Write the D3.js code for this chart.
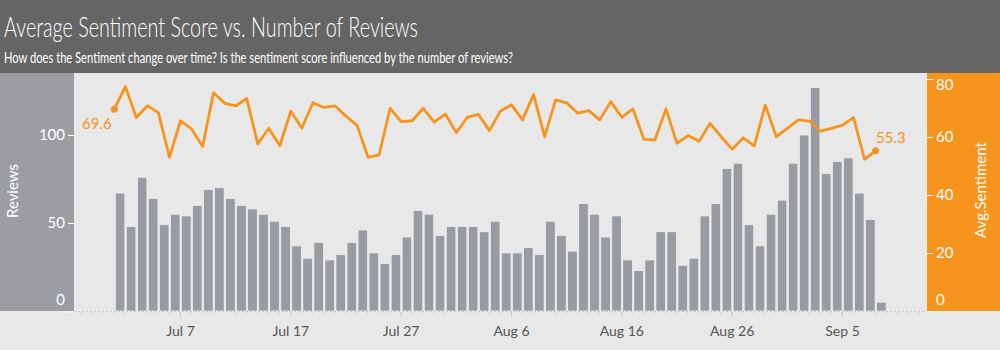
<!DOCTYPE html>
<html>
<head>
<meta charset="utf-8">
<script src="https://cdn.jsdelivr.net/npm/d3@7"></script>
<style>
  body { margin: 0; background: #e8e8e8; }
  svg { display: block; font-family: Lato, "Open Sans", sans-serif; }
</style>
</head>
<body>
<div id="chart"></div>
<script>
// daily values, Jul 1 .. Sep 8
const startDate = new Date(Date.UTC(2019, 6, 1))
const reviews = [67, 48, 76, 64, 49, 55, 54, 60, 69, 70, 64, 60, 58, 55, 51, 48, 37, 30, 39, 29,
    32, 39, 46, 33, 27, 32, 42, 57, 55, 43, 48, 48, 48, 45, 51, 33, 33, 36, 32, 51,
    43, 34, 61, 55, 42, 54, 29, 23, 29, 45, 45, 26, 30, 54, 61, 81, 84, 49, 37, 55,
    63, 84, 100, 127, 78, 85, 87, 67, 52, 5]
const sentiment = [69.6, 77.4, 66.7, 70.8, 68.4, 53.0, 65.6, 62.8, 56.7, 75.3, 71.6, 70.7, 73.3, 57.6, 63.0, 57.0, 68.9, 63.0, 71.8, 70.2,
    70.7, 67.2, 64.0, 53.0, 53.8, 69.9, 65.3, 65.6, 69.9, 65.1, 67.9, 61.5, 66.8, 67.8, 62.2, 69.0, 71.1, 65.9, 74.6, 60.1,
    72.8, 71.8, 68.2, 69.1, 65.9, 72.2, 66.8, 69.7, 59.2, 59.0, 69.7, 57.8, 60.5, 58.5, 64.7, 60.1, 55.8, 59.7, 56.9, 71.0,
    60.1, 63.0, 65.9, 65.5, 62.0, 63.0, 64.1, 66.7, 52.3, 55.3]
const xTickLabels = ["Jul 7", "Jul 17", "Jul 27", "Aug 6", "Aug 16", "Aug 26", "Sep 5"]
const reviewTicks = [0, 50, 100]
const sentimentTicks = [0, 20, 40, 60, 80]

const title = "Average Sentiment Score vs. Number of Reviews"
const subtitle = "How does the Sentiment change over time? Is the sentiment score influenced by the number of reviews?"

const W = 1000, H = 350
const plotLeft = 74, plotRight = 927, plotTop = 73, plotBottom = 311

let data = reviews.map((r, i) => ({date: d3.utcDay.offset(startDate, i), reviews: r, sentiment: sentiment[i]}))

let svg = d3.select("#chart").append("svg").attr("width", W).attr("height", H)

svg.append("rect").attr("width", W).attr("height", H).attr("fill", "#e8e8e8")

// header (tableau font is narrower, so squeeze to the same width)
svg.append("rect").attr("width", W).attr("height", plotTop).attr("fill", "#656565")
svg.append("text").attr("x", 4).attr("y", 37).text(title)
    .attr("fill", "white").style("font-size", "27px").style("font-weight", 300)
    .attr("textLength", 414).attr("lengthAdjust", "spacingAndGlyphs")
svg.append("text").attr("x", 4).attr("y", 63).text(subtitle)
    .attr("fill", "white").style("font-size", "15.5px")
    .attr("textLength", 509).attr("lengthAdjust", "spacingAndGlyphs")

// side panels
svg.append("rect").attr("x", 0).attr("y", plotTop).attr("width", plotLeft).attr("height", plotBottom - plotTop).attr("fill", "#9b9da3")
svg.append("rect").attr("x", plotRight).attr("y", plotTop).attr("width", W - plotRight).attr("height", plotBottom - plotTop).attr("fill", "#f7941d")

let x = d3.scaleUtc()
    .domain([new Date(Date.UTC(2019, 6, 7)), new Date(Date.UTC(2019, 8, 5))])
    .range([180, 842])
let yReviews = d3.scaleLinear().domain([0, 100]).range([plotBottom, 135])
let ySent = d3.scaleLinear().domain([0, 80]).range([plotBottom, 79])

// bars
svg.append("g").selectAll("rect").data(data).enter().append("rect")
    .attr("x", d => x(d.date) + 1.5)
    .attr("width", d => x(d3.utcDay.offset(d.date, 1)) - x(d.date) - 1.5)
    .attr("y", d => yReviews(d.reviews))
    .attr("height", d => plotBottom - yReviews(d.reviews))
    .attr("fill", "#999ba3")
    .attr("stroke", "#f2f2f2").attr("stroke-width", 0.7)

// baseline
svg.append("line").attr("x1", plotLeft).attr("x2", plotRight).attr("y1", plotBottom + 0.5).attr("y2", plotBottom + 0.5)
    .attr("stroke", "#c8c8c8").attr("stroke-dasharray", "2,2")

// x axis
let dayTicks = d3.utcDay.range(x.invert(plotLeft), x.invert(plotRight))
svg.append("g").selectAll("line").data(dayTicks).enter().append("line")
    .attr("x1", d => x(d)).attr("x2", d => x(d))
    .attr("y1", plotBottom + 1).attr("y2", plotBottom + 3)
    .attr("stroke", "#d0d0d0")
let majorDates = xTickLabels.map((t, i) => d3.utcDay.offset(new Date(Date.UTC(2019, 6, 7)), i * 10))
let xAxis = svg.append("g").attr("transform", "translate(0," + (plotBottom + 1) + ")")
    .call(d3.axisBottom(x).tickValues(majorDates).tickSize(5).tickFormat((d, i) => xTickLabels[i]))
xAxis.select(".domain").remove()
xAxis.selectAll("line").attr("stroke", "#c8c8c8")
xAxis.selectAll("text").attr("fill", "#555").style("font-size", "14px").attr("dy", "1.15em")
    .style("font-family", "Lato, sans-serif")

// left axis
let leftAxis = svg.append("g").attr("transform", "translate(" + plotLeft + ",0)")
    .call(d3.axisLeft(yReviews).tickValues(reviewTicks).tickSize(6))
leftAxis.select(".domain").remove()
leftAxis.selectAll("line").attr("stroke", "white")
leftAxis.selectAll("text").attr("fill", "white").style("font-size", "15px").style("font-family", "Lato, sans-serif")
leftAxis.selectAll(".tick").filter(d => d === 0).select("text").attr("y", -11)
leftAxis.selectAll(".tick").filter(d => d === 0).select("line").attr("x1", -8).attr("x2", 0).attr("y1", 0.5).attr("y2", 0.5)

// right axis
let rightAxis = svg.append("g").attr("transform", "translate(" + plotRight + ",0)")
    .call(d3.axisRight(ySent).tickValues(sentimentTicks).tickSize(6))
rightAxis.select(".domain").remove()
rightAxis.selectAll("line").attr("stroke", "white")
rightAxis.selectAll("text").attr("fill", "white").style("font-size", "15px").style("font-family", "Lato, sans-serif")
rightAxis.selectAll(".tick").filter(d => d === 0).select("text").attr("y", -11)
rightAxis.selectAll(".tick").filter(d => d === 80).select("text").attr("y", 6)

// axis titles
svg.append("text").attr("transform", "translate(18,191)rotate(-90)").attr("text-anchor", "middle")
    .text("Reviews").attr("fill", "white").style("font-size", "15px")
svg.append("text").attr("transform", "translate(986,190)rotate(-90)").attr("text-anchor", "middle")
    .text("Avg.Sentiment").attr("fill", "white").style("font-size", "15px")

// sentiment line
let line = d3.line().x(d => x(d.date) + 0.5).y(d => ySent(d.sentiment))
svg.append("path").datum(data).attr("d", line)
    .attr("fill", "none").attr("stroke", "#f7941d").attr("stroke-width", 2.8).attr("stroke-linejoin", "round")

let first = data[0], last = data[data.length - 1]
svg.selectAll(".endDot").data([first, last]).enter().append("circle")
    .attr("cx", d => x(d.date) + 0.5).attr("cy", d => ySent(d.sentiment)).attr("r", 3.5)
    .attr("fill", "#f7941d")
svg.append("text").attr("x", x(first.date) - 17).attr("y", ySent(first.sentiment) + 20).attr("text-anchor", "middle")
    .text(first.sentiment.toFixed(1)).attr("fill", "#f7941d").style("font-size", "15px")
svg.append("text").attr("x", x(last.date) + 1).attr("y", ySent(last.sentiment) - 8)
    .text(last.sentiment.toFixed(1)).attr("fill", "#f7941d").style("font-size", "15px")
</script>
</body>
</html>
